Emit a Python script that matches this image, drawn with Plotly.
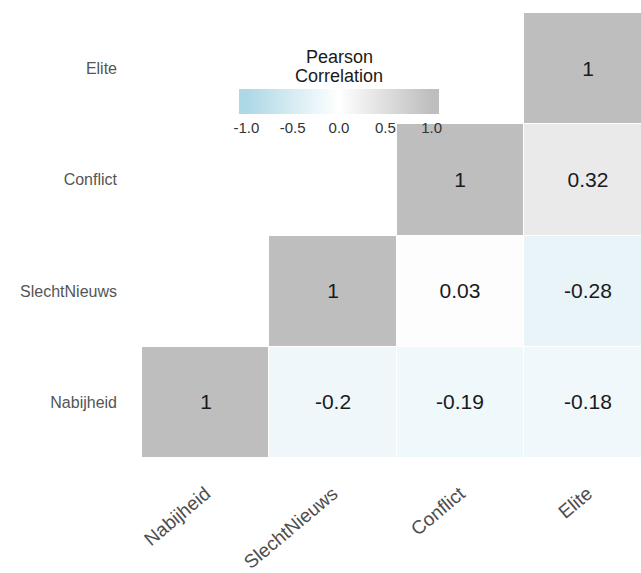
import plotly.graph_objects as go

# Variables of the correlation matrix (x: left to right, y: bottom to top)
variables = ["Nabijheid", "SlechtNieuws", "Conflict", "Elite"]

# Upper-triangle Pearson correlations, one list per row (row variable = y)
row_nabijheid = [1, -0.2, -0.19, -0.18]
row_slechtnieuws = [None, 1, 0.03, -0.28]
row_conflict = [None, None, 1, 0.32]
row_elite = [None, None, None, 1]

z = [row_nabijheid, row_slechtnieuws, row_conflict, row_elite]
labels = [["" if v is None else f"{v:g}" for v in row] for row in z]

zmin, zmax = -1.08, 1.08


def pos(v):
    return (v - zmin) / (zmax - zmin)


colorscale = [
    [0.0, "#ADD8E6"],
    [pos(-1.0), "#ADD8E6"],
    [pos(0.0), "#FFFFFF"],
    [pos(1.0), "#BEBEBE"],
    [1.0, "#BEBEBE"],
]

W, H = 641, 573
L, R, T, B = 142, 0, 13, 115
PW, PH = W - L - R, H - T - B
FONT = "Liberation Sans, Arial, sans-serif"


def px_x(px):
    return (px - L) / PW


def px_y(py):
    return (H - B - py) / PH


bar_cx = 339

fig = go.Figure(
    go.Heatmap(
        x=variables,
        y=variables,
        z=z,
        text=labels,
        texttemplate="%{text}",
        textfont=dict(family=FONT, size=21, color="#1a1a1a"),
        colorscale=colorscale,
        zmin=zmin,
        zmax=zmax,
        xgap=1,
        ygap=1,
        hoverongaps=False,
        colorbar=dict(
            orientation="h",
            xref="paper",
            yref="paper",
            x=px_x(bar_cx),
            xanchor="center",
            y=px_y(89),
            yanchor="top",
            thickness=25,
            thicknessmode="pixels",
            len=200,
            lenmode="pixels",
            xpad=0,
            ypad=0,
            outlinewidth=0,
            tickvals=[-1.0, -0.5, 0.0, 0.5, 1.0],
            ticktext=["-1.0", "-0.5", "0.0", "0.5", "1.0"],
            ticks="",
            ticklabelposition="outside bottom",
            tickfont=dict(family=FONT, size=15, color="#333333"),
        ),
    )
)

# Legend title, one line per annotation
for line, ypx in (("Pearson", 57), ("Correlation", 76)):
    fig.add_annotation(
        text=line,
        xref="paper",
        yref="paper",
        x=px_x(bar_cx),
        y=px_y(ypx),
        xanchor="center",
        yanchor="middle",
        showarrow=False,
        font=dict(family=FONT, size=18, color="#1a1a1a"),
    )

fig.update_layout(
    width=W,
    height=H,
    margin=dict(l=L, r=R, t=T, b=B, autoexpand=False),
    paper_bgcolor="white",
    plot_bgcolor="white",
    font=dict(family=FONT),
    xaxis=dict(
        range=[-0.5, 3.42],
        showgrid=False,
        zeroline=False,
        showline=False,
        ticks="",
        tickangle=-40,
        ticklabelstandoff=20,
        tickfont=dict(size=19, color="#4d4d4d"),
    ),
    yaxis=dict(
        range=[-0.5, 3.5],
        showgrid=False,
        zeroline=False,
        showline=False,
        ticks="",
        ticklabelstandoff=24,
        tickfont=dict(size=16, color="#555555"),
    ),
)

fig.write_html("out.html")
